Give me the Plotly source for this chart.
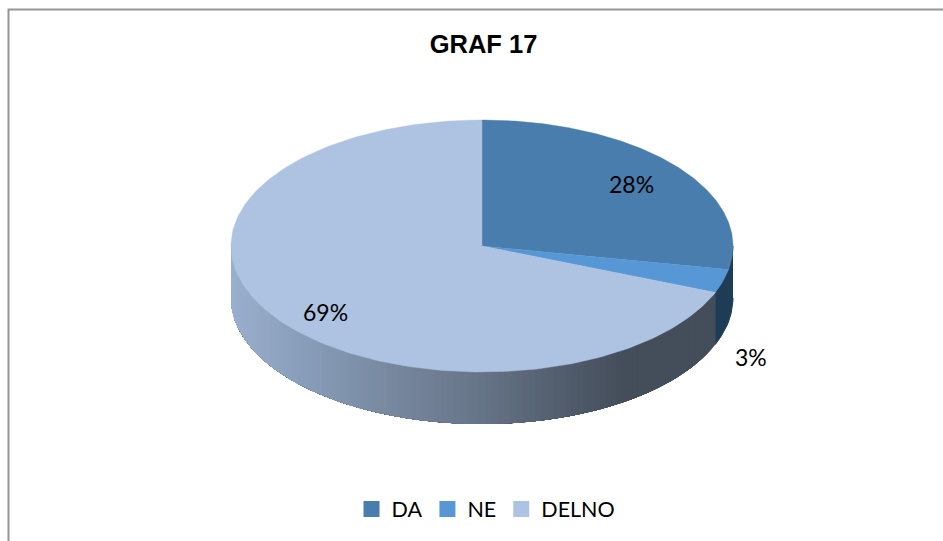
import numpy as np
import plotly.graph_objects as go

categories = ["DA", "NE", "DELNO"]
values = [28, 3, 69]
labels = ["28%", "3%", "69%"]
top_colors = ["#487DAD", "#5797D5", "#ADC3E1"]
side_colors = ["#1F3C57", "#1F3C57", None]
side_stops_x = [231, 300, 400, 480, 560, 625, 735]
side_stops_rgb = [(155, 176, 206), (138, 159, 187), (118, 134, 157), (103, 117, 136), (83, 94, 110), (68, 78, 91), (68, 78, 91)]
title = "GRAF 17"

CX, CY, RX, RY, DEPTH = 482, 246, 251, 126, 52


def px(a):
    return CX + RX * np.sin(a)


def py(a, z=0):
    return CY - RY * np.cos(a) + z


def side_color(x):
    c = [np.interp(x, side_stops_x, [s[i] for s in side_stops_rgb]) for i in range(3)]
    return "rgb(%d,%d,%d)" % tuple(c)


def poly(fig, xs, ys, color, width=0.0):
    fig.add_trace(go.Scatter(x=xs, y=ys, mode="lines", fill="toself", fillcolor=color,
                             line=dict(color=color, width=width), hoverinfo="skip", showlegend=False))


fig = go.Figure()
total = sum(values)
edges = np.cumsum([0] + values) / total * 2 * np.pi
# rim: each piece reaches to the far end of its slice, later pieces paint over it, so no seams show
for i, name in enumerate(categories):
    a0 = max(edges[i], np.pi / 2)
    a1 = min(edges[i + 1], 3 * np.pi / 2)
    if a1 <= a0:
        continue
    n = max(1, int((a1 - a0) * 40)) if side_colors[i] is None else 1
    grid = np.linspace(a0, a1, n + 1)
    for s, e in zip(grid[:-1], grid[1:]):
        c = side_colors[i] or side_color(px((s + e) / 2))
        aa = np.linspace(s, a1, 120)
        poly(fig, list(px(aa)) + list(px(aa[::-1])), list(py(aa)) + list(py(aa[::-1], DEPTH)), c,
             1.0 if side_colors[i] else 0.0)
# top face
for i, name in enumerate(categories):
    aa = np.linspace(edges[i], edges[i + 1], 200)
    poly(fig, [CX] + list(px(aa)) + [CX], [CY] + list(py(aa)) + [CY], top_colors[i], 0.4)

# legend keys
for name, c in zip(categories, top_colors):
    fig.add_trace(go.Scatter(x=[None], y=[None], mode="markers", name=name,
                             marker=dict(symbol="square", size=16, color=c)))

label_pos = [(631, 184), (751, 357), (325, 312)]
for t, (x, y) in zip(labels, label_pos):
    fig.add_annotation(x=x, y=y, text=t, showarrow=False, font=dict(family="Lato", size=23, color="#000"))

fig.update_layout(
    width=943, height=541, autosize=False,
    margin=dict(l=0, r=0, t=0, b=0),
    paper_bgcolor="#ffffff", plot_bgcolor="#ffffff",
    xaxis=dict(range=[0, 943], visible=False, fixedrange=True),
    yaxis=dict(range=[541, 0], visible=False, fixedrange=True),
    title=dict(text="<b>%s</b>" % title, x=483.5 / 943, xanchor="center", y=1 - 44 / 541, yanchor="middle",
               font=dict(family="Liberation Sans", size=25.5, color="#000")),
    legend=dict(orientation="h", x=486 / 943, xanchor="center", y=1 - 509 / 541, yanchor="middle",
                font=dict(family="Lato", size=21.5, color="#000"), bgcolor="rgba(0,0,0,0)",
                itemclick=False, itemdoubleclick=False),
    shapes=[dict(type="rect", xref="x", yref="y", x0=8.5, y0=9.5, x1=960, y1=560,
                 line=dict(color="#969696", width=2), fillcolor="rgba(0,0,0,0)", layer="above")],
)
fig.write_html("out.html", post_script="document.body.style.margin='0';",
               config=dict(displayModeBar=False, staticPlot=True))
